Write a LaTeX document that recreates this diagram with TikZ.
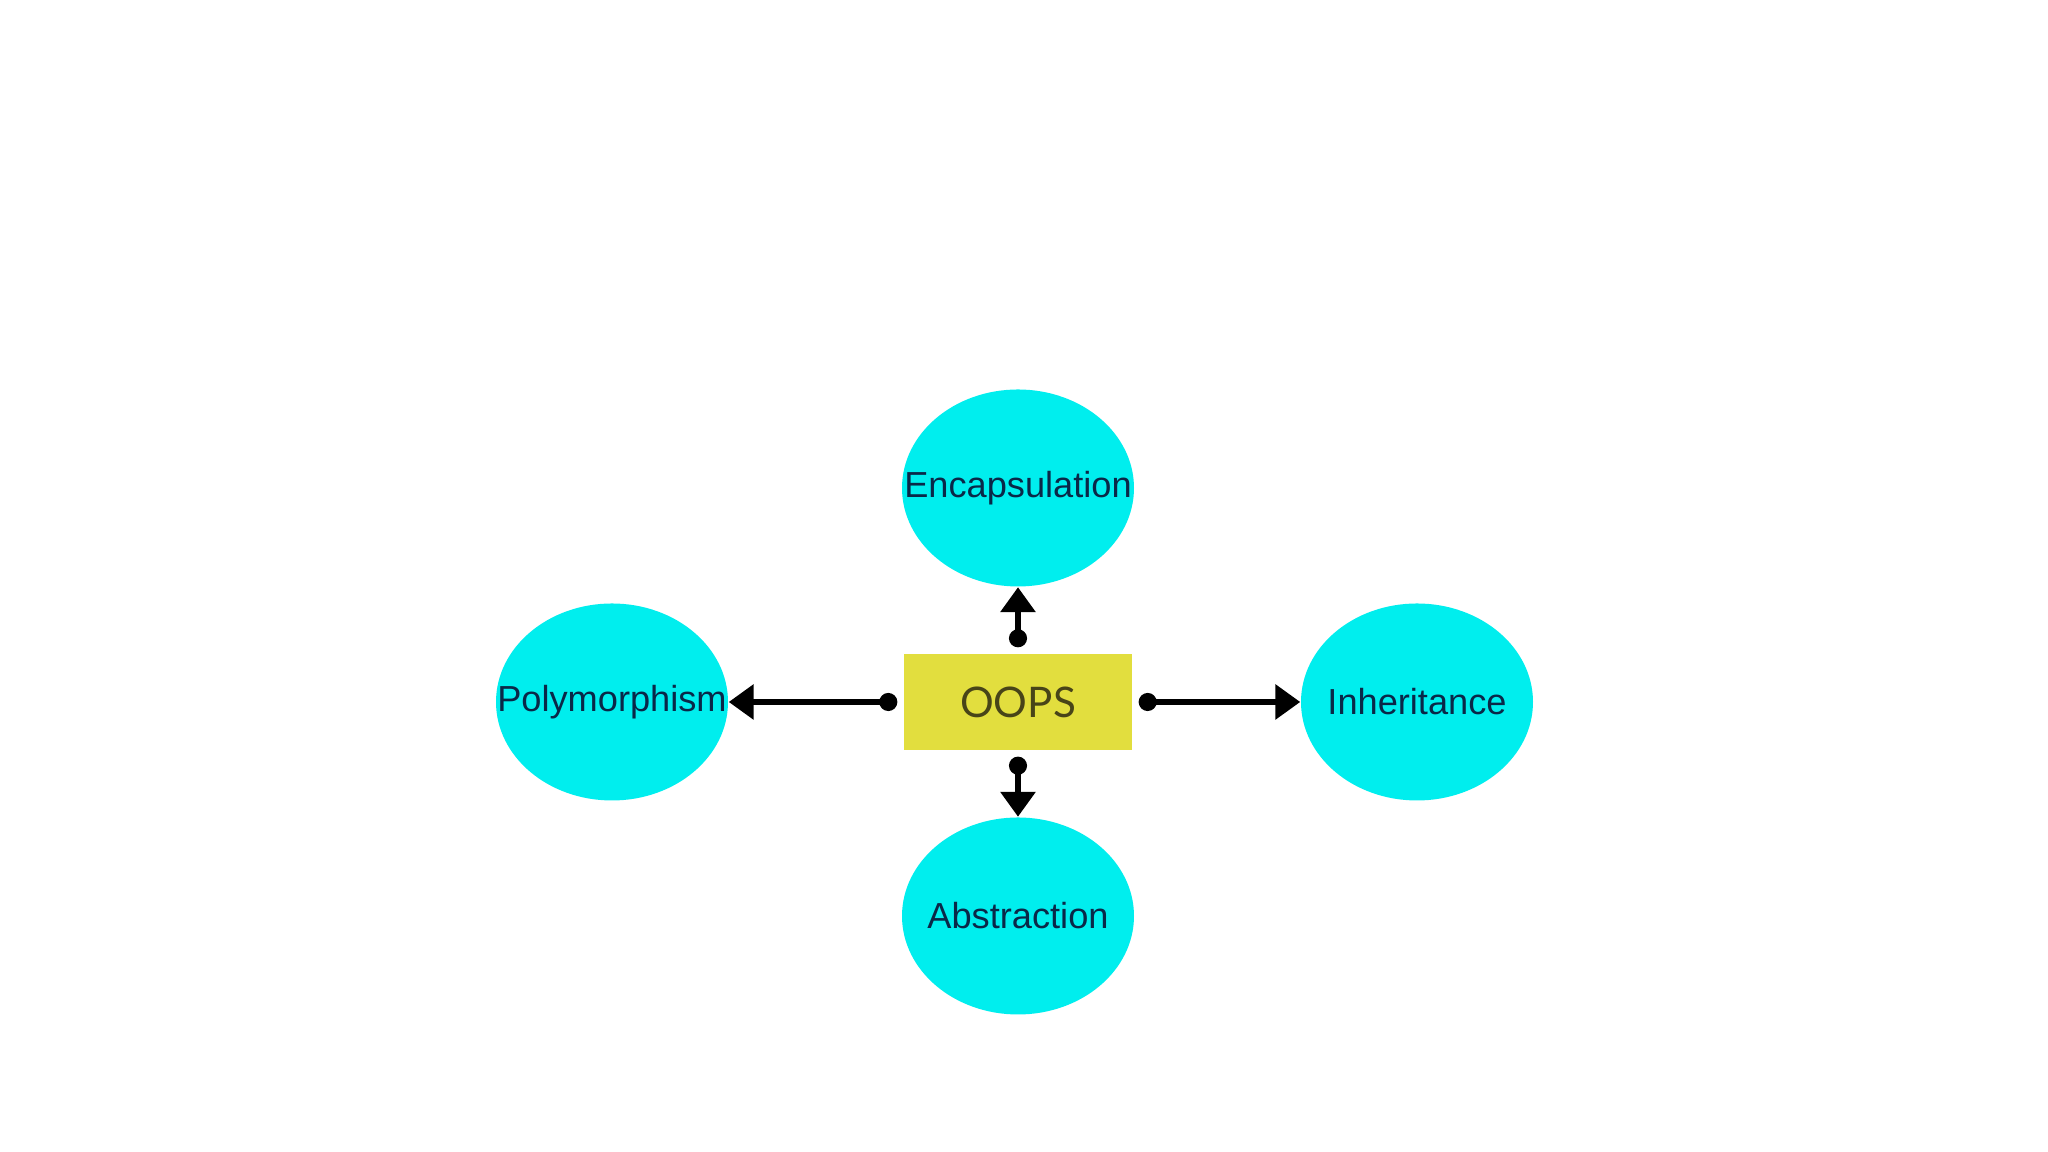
\documentclass[tikz,border=0pt]{standalone}
\usepackage{fontspec}
\setmainfont{Liberation Sans}
\newfontfamily\oopsfont{Lato}
\usetikzlibrary{arrows.meta,shapes.geometric}
\definecolor{blobcyan}{RGB}{0,238,238}
\definecolor{boxyellow}{RGB}{226,222,62}
\definecolor{blobtext}{RGB}{10,40,72}
\definecolor{boxtext}{RGB}{72,68,24}
\tikzset{
	blob/.style={ellipse, fill=blobcyan, draw=none, inner sep=0pt, minimum width=2.32cm, minimum height=1.97cm, text=blobtext, font=\fontsize{10.3}{12}\selectfont},
	oopsbox/.style={rectangle, fill=boxyellow, draw=none, minimum width=2.28cm, minimum height=0.96cm, text=boxtext, font=\oopsfont\fontsize{12}{14}\selectfont},
	link/.style={line width=1.8pt, shorten <=0.06cm, {Circle[length=0.18cm]}-{Triangle[length=0.25cm,width=0.34cm]}}
}
\newcommand{\nowidth}[1]{\makebox[0pt]{#1}}

\begin{document}
\begin{tikzpicture}
		%%%%% START %%%%%
		
		\useasboundingbox[fill=white] (0, 0) rectangle (20.48, 11.52);
		
		\node[oopsbox] (oops) at (10.18, 4.50) {OOPS};
		
		\node[blob] (encap) at (10.18, 6.64) {\nowidth{Encapsulation}};
		\node[blob] (abstr) at (10.18, 2.36) {\nowidth{Abstraction}};
		\node[blob] (poly) at (6.12, 4.50) {\nowidth{Polymorphism}};
		\node[blob] (inher) at (14.17, 4.50) {\nowidth{Inheritance}};
		
		\draw[link] (oops.north) -- (encap.south);
		\draw[link] (oops.south) -- (abstr.north);
		\draw[link] (oops.west) -- (poly.east);
		\draw[link] (oops.east) -- (inher.west);
		
		%%%%% END %%%%%
	\end{tikzpicture}
\end{document}
